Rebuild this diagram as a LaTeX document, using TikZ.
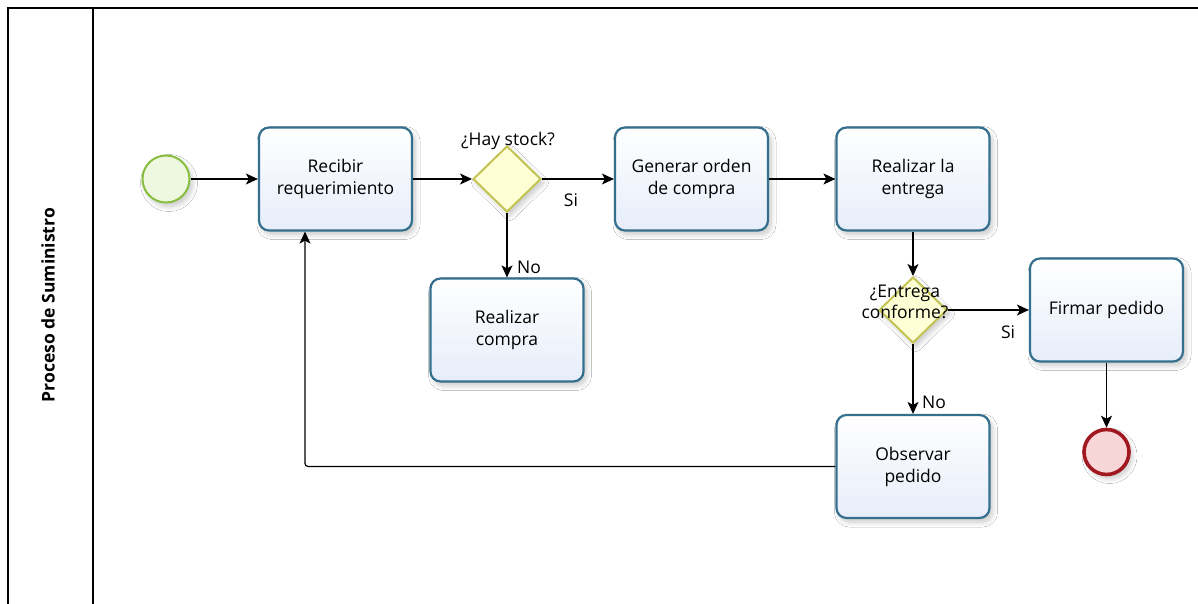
\documentclass[tikz,border=0pt]{standalone}
\usepackage{fontspec}
\setmainfont{Open Sans}
\usetikzlibrary{shapes.geometric,arrows.meta,shadows.blur}
\definecolor{taskline}{RGB}{52,112,142}
\definecolor{taskfill}{RGB}{230,237,250}
\definecolor{gateline}{RGB}{196,196,84}
\definecolor{gatefill}{RGB}{255,255,214}
\definecolor{startline}{RGB}{136,190,64}
\definecolor{startfill}{RGB}{238,248,224}
\definecolor{endline}{RGB}{160,24,32}
\definecolor{endfill}{RGB}{248,214,216}
\begin{document}
\begin{tikzpicture}[x=1pt,y=-1pt,
  font=\fontsize{17.5}{22}\selectfont,
  softshadow/.style={blur shadow={shadow xshift=3pt,shadow yshift=-4pt,shadow blur steps=8,shadow blur radius=5pt,shadow opacity=22}},
  task/.style={draw=taskline,line width=2.2pt,rounded corners=10pt,
    top color=white,bottom color=taskfill,minimum width=153pt,minimum height=103pt,
    align=center,inner sep=2pt,softshadow},
  gate/.style={diamond,draw=gateline,line width=2pt,fill=gatefill,
    minimum width=68pt,minimum height=66pt,inner sep=0pt,softshadow},
  startev/.style={circle,draw=startline,line width=2pt,fill=startfill,minimum size=47pt,inner sep=0pt,softshadow},
  endev/.style={circle,draw=endline,line width=3.6pt,fill=endfill,minimum size=45pt,inner sep=0pt,softshadow},
  flow/.style={draw=black,line width=1.2pt,-{Stealth[length=12pt,width=11pt,inset=3pt]}},
  lbl/.style={inner sep=0pt,font=\fontsize{17.5}{21}\selectfont}
]
\useasboundingbox (0,0) rectangle (1198,604);
\fill[white] (0,0) rectangle (1198,604);

% pool frame and lane header
\draw[line width=1.2pt] (8,604) -- (8,8) -- (1198,8);
\draw[line width=1.2pt] (93,8) -- (93,604);
\node[rotate=90,font=\bfseries\fontsize{17.5}{20}\selectfont] (lane) at (48,305) {Proceso de Suministro};

% events, tasks and gateways
\node[startev] (start) at (166,179) {};
\node[task] (recv) at (335.5,179) {Recibir\\requerimiento};
\node[gate] (gw1) at (507,179) {};
\node[lbl] (gw1t) at (508,141) {¿Hay stock?};
\node[task] (gen) at (691.5,179) {Generar orden\\de compra};
\node[task] (ent) at (913,179) {Realizar la\\entrega};
\node[task] (comp) at (507,330) {Realizar\\compra};
\node[gate] (gw2) at (913,310) {};
\node[lbl,align=center] (gw2t) at (905,301.5) {¿Entrega\\conforme?};
\node[task] (firm) at (1106.5,310) {Firmar pedido};
\node[task] (obs) at (913,466.5) {Observar\\pedido};
\node[endev] (fin) at (1106.5,452) {};

% sequence flows
\draw[flow] (start) -- (recv);
\draw[flow] (recv) -- (gw1);
\draw[flow] (gw1) -- (gen);
\draw[flow] (gw1) -- (comp);
\draw[flow] (gen) -- (ent);
\draw[flow] (ent) -- (gw2);
\draw[flow] (gw2) -- (firm);
\draw[flow] (gw2) -- (obs);
\draw[flow] (firm) -- (fin);
\coordinate (back) at ([xshift=-30.5pt]recv.south);
\draw[flow,rounded corners=3pt] (obs.west) -| (back);

% flow labels
\node[lbl] (si1) at (571,200) {Si};
\node[lbl,anchor=west] (no1) at (517,267) {No};
\node[lbl] (si2) at (1008,332) {Si};
\node[lbl,anchor=west] (no2) at (922,402) {No};
\end{tikzpicture}
\end{document}
